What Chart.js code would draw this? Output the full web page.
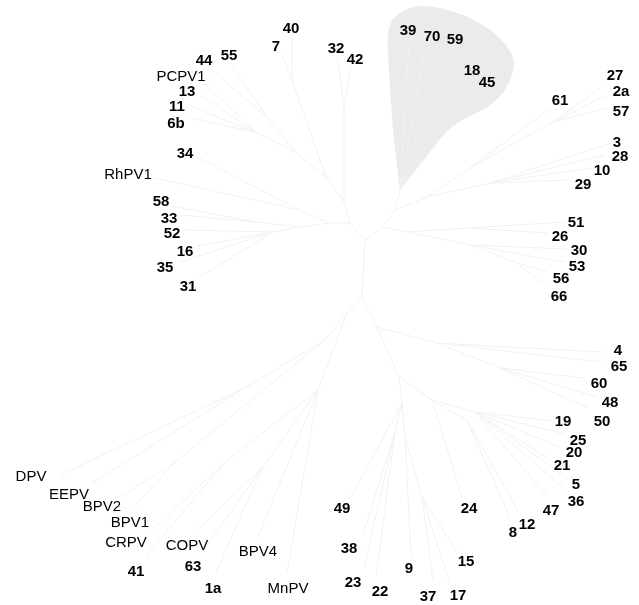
<!DOCTYPE html>
<html>
<head>
<meta charset="utf-8">
<script src="https://cdn.jsdelivr.net/npm/chart.js@4/dist/chart.umd.min.js"></script>
<style>
  html, body { margin: 0; padding: 0; background: #ffffff; }
  #wrap { width: 639px; height: 605px; position: relative; }
</style>
</head>
<body>
<div id="wrap"><canvas id="tree"></canvas></div>
<script>
// Unrooted tree of papillomavirus types, laid out on a plain x/y plane.

// Internal nodes: name, position, parent
const innerNames  = ['C','UL','A','N3242','Na','N740','Nb','N5544','NP','L','L1','L2','L3','L4',
                     'R','Rt','Sh','Nur','N61','N27','N3','Rr','N51','N30','N56',
                     'D','DL','DL2','Npv','Nb12','DLb','Ncr','Ncop',
                     'DR','N4','N60','DR2','DR3','N19','N8','DR4','N38','N9','N17'];
const innerX      = [365,350,344,344,326,292,295,268,255,330,300,300,255,273,
                     382,395,400,427,470,553,490,407,470,470,515,
                     362,347,325,245,175,318,225,262,
                     377,437,500,399,432,475,467,402,395,405,422];
const innerY      = [240,223,202,110,177,80,152,118,132,223,210,227,222,232,
                     227,210,190,197,168,122,183,232,228,245,262,
                     298,313,340,388,462,390,462,468,
                     327,343,368,377,400,412,420,403,432,437,497];
const innerParent = [null,'C','UL','A','A','Na','Na','Nb','Nb','UL','L','L','L2','L2',
                     'C','R','Rt','Rt','Nur','N61','Nur','R','Rr','Rr','N30',
                     'C','D','DL','DL2','DL2','DL','DLb','DLb',
                     'D','DR','N4','DR','DR2','DR3','DR3','DR2','DR4','DR4','N9'];

// Leaves: label, label position, branch tip, parent
const leafLabels = ['40','7','32','42','55','44','PCPV1','13','11','6b','34','RhPV1',
                    '58','33','52','16','35','31',
                    '39','70','59','18','45',
                    '61','27','2a','57','3','28','10','29',
                    '51','26','30','53','56','66',
                    '4','65','60','48','50','19','25','20','21','5','36','47','12','8',
                    '24','49','38','23','22','9','37','17','15',
                    'DPV','EEPV','BPV2','BPV1','CRPV','41','COPV','63','1a','BPV4','MnPV'];
const labelX = [291,276,336,355,229,204,181,187,177,176,185,128,
                161,169,172,185,165,188,
                408,432,455,472,487,
                560,615,621,621,617,620,602,583,
                576,560,579,577,561,559,
                618,619,599,610,602,563,578,574,562,576,576,551,527,513,
                469,342,349,353,380,409,428,458,466,
                31,69,102,130,126,136,187,193,213,258,288];
const labelY = [29,47,49,60,56,61,77,92,107,124,154,175,
                202,219,234,252,268,287,
                31,37,40,71,83,
                101,76,92,112,143,157,171,185,
                223,237,251,267,279,297,
                351,367,384,403,422,422,441,453,466,485,502,511,525,533,
                509,509,549,583,592,569,597,596,562,
                477,495,507,523,543,572,546,567,589,552,589];
const tipX   = [292,282,338,350,232,212,205,200,190,190,197,155,
                172,181,184,197,180,198,
                409,425,446,464,476,
                550,603,605,607,611,604,592,567,
                565,548,566,564,547,545,
                603,601,584,597,588,553,565,560,551,567,566,547,518,510,
                462,350,363,364,376,411,433,450,457,
                60,92,122,135,150,147,195,202,216,258,287];
const tipY   = [38,55,60,68,66,70,84,95,106,118,157,178,
                206,215,230,246,262,278,
                42,48,50,80,91,
                108,86,96,108,143,155,168,180,
                222,233,249,262,272,285,
                352,362,378,397,408,421,434,447,460,478,490,496,511,518,
                497,499,535,568,577,556,581,584,552,
                475,483,496,506,532,555,532,552,572,537,573];
const leafParent = ['N740','N740','N3242','N3242','N5544','N5544','NP','NP','NP','NP','L1','L1',
                    'L3','L3','L4','L4','L4','L4',
                    'Sh','Sh','Sh','Sh','Sh',
                    'N61','N27','N27','N27','N3','N3','N3','N3',
                    'N51','N51','N30','N30','N56','N56',
                    'N4','N4','N60','N60','N60','N19','N19','N19','N19','N19','N19','N19','N8','N8',
                    'DR3','DR4','N38','N38','N38','N9','N17','N17','N17',
                    'Npv','Npv','Nb12','Nb12','Ncr','Ncr','Ncop','Ncop','Ncop','DLb','DLb'];

// Outline of the highlighted clade (39, 70, 59, 18, 45)
const cladeX = [400,394,389,388,396,420,455,490,512,510,493,452,424];
const cladeY = [190,140,70,35,16,6,12,30,55,80,103,127,160];

// ---- build branch segments from the node tables ----
const pos = {};
innerNames.forEach((n, i) => { pos[n] = { x: innerX[i], y: innerY[i] }; });

const branchSets = [];
const branchStyle = { borderColor: '#f1f1f1', borderWidth: 1, pointRadius: 0,
                      showLine: true, fill: false, tension: 0 };
innerNames.forEach((n, i) => {
  const p = innerParent[i];
  if (!p) return;
  branchSets.push(Object.assign({ data: [pos[p], pos[n]] }, branchStyle));
});
leafLabels.forEach((n, i) => {
  const p = pos[leafParent[i]];
  branchSets.push(Object.assign({ data: [p, { x: tipX[i], y: tipY[i] }] }, branchStyle));
});

// Shaded clade hull, drawn under the branches as a smooth closed curve
const cladeHull = {
  id: 'cladeHull',
  beforeDatasetsDraw(chart) {
    const { ctx, scales } = chart;
    const pts = cladeX.map((x, i) => ({ x: scales.x.getPixelForValue(x),
                                        y: scales.y.getPixelForValue(cladeY[i]) }));
    const n = pts.length;
    ctx.save();
    ctx.beginPath();
    ctx.moveTo(pts[0].x, pts[0].y);
    for (let i = 0; i < n; i++) {
      const p0 = pts[(i - 1 + n) % n], p1 = pts[i], p2 = pts[(i + 1) % n], p3 = pts[(i + 2) % n];
      const t = i === 0 || i === n - 1 ? 0 : 1 / 6;
      ctx.bezierCurveTo(p1.x + (p2.x - p0.x) * t, p1.y + (p2.y - p0.y) * t,
                        p2.x - (p3.x - p1.x) * t, p2.y - (p3.y - p1.y) * t,
                        p2.x, p2.y);
    }
    ctx.closePath();
    ctx.fillStyle = '#ebebeb';
    ctx.fill();
    ctx.restore();
  }
};

// Leaf names written at their label positions
const leafText = {
  id: 'leafText',
  afterDatasetsDraw(chart) {
    const { ctx, scales } = chart;
    ctx.save();
    ctx.fillStyle = '#000000';
    ctx.textAlign = 'center';
    ctx.textBaseline = 'middle';
    leafLabels.forEach((t, i) => {
      const isType = /^\d/.test(t);
      ctx.font = (isType ? 'bold ' : '') + '15px "Liberation Sans", Arial, sans-serif';
      ctx.fillText(t, scales.x.getPixelForValue(labelX[i]), scales.y.getPixelForValue(labelY[i]));
    });
    ctx.restore();
  }
};

new Chart(document.getElementById('tree'), {
  type: 'scatter',
  data: { datasets: branchSets },
  options: {
    responsive: true,
    maintainAspectRatio: false,
    animation: false,
    layout: { padding: 0 },
    plugins: { legend: { display: false }, tooltip: { enabled: false } },
    scales: {
      x: { type: 'linear', min: 0, max: 639, display: false },
      y: { type: 'linear', min: 0, max: 605, reverse: true, display: false }
    }
  },
  plugins: [cladeHull, leafText]
});
</script>
</body>
</html>
